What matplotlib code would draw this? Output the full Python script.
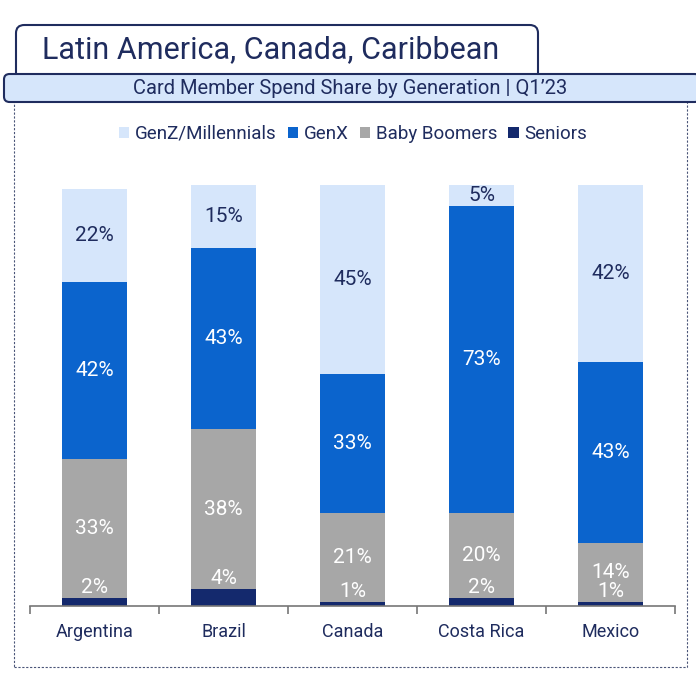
import matplotlib.pyplot as plt
from matplotlib.patches import FancyBboxPatch, Rectangle
import numpy as np

plt.rcParams['font.family'] = ['Roboto', 'DejaVu Sans']

# data
countries = ["Argentina", "Brazil", "Canada", "Costa Rica", "Mexico"]
series = ["GenZ/Millennials", "GenX", "Baby Boomers", "Seniors"]
seniors = [2, 4, 1, 2, 1]
boomers = [33, 38, 21, 20, 14]
genx = [42, 43, 33, 73, 43]
genz = [22, 15, 45, 5, 42]

colors = {"GenZ/Millennials": "#d6e6fb", "GenX": "#0b64cd",
          "Baby Boomers": "#a7a7a7", "Seniors": "#14296d"}
navy = "#1f2c5e"

W, H = 696, 676
fig = plt.figure(figsize=(W / 100, H / 100), dpi=100)

def fx(px):
    return px / W

def fy(py):
    return 1 - py / H

# dashed frame
fig.patches.append(Rectangle((fx(14), fy(667)), fx(687) - fx(14), fy(100) - fy(667),
                             transform=fig.transFigure, fill=False, ec="#4a5578",
                             lw=0.8, ls=(0, (2, 1.5))))
# title tab
fig.patches.append(FancyBboxPatch((fx(16), fy(95)), fx(538) - fx(16), fy(25) - fy(95),
                                  boxstyle="round,pad=0,rounding_size=0.012",
                                  transform=fig.transFigure, fc="white", ec=navy, lw=1.5))
fig.text(fx(271), fy(50), "Latin America, Canada, Caribbean", ha="center", va="center",
         fontsize=22, color=navy)
# subtitle band
fig.patches.append(FancyBboxPatch((fx(4), fy(102)), fx(700) - fx(4), fy(74) - fy(102),
                                  boxstyle="round,pad=0,rounding_size=0.008",
                                  transform=fig.transFigure, fc="#d6e6fb", ec=navy, lw=1.5))
fig.text(fx(350), fy(88), "Card Member Spend Share by Generation | Q1\u201923", ha="center",
         va="center", fontsize=14.5, color=navy)

ax = fig.add_axes([fx(30), fy(606), fx(675) - fx(30), fy(185) - fy(606)])
x = np.arange(len(countries))
w = 0.5

bottom = np.zeros(len(countries))
stack = [("Seniors", seniors), ("Baby Boomers", boomers), ("GenX", genx), ("GenZ/Millennials", genz)]
for name, vals in stack:
    vals = np.array(vals, dtype=float)
    ax.bar(x, vals, w, bottom=bottom, color=colors[name], label=name, zorder=2)
    for i, v in enumerate(vals):
        tc = navy if name == "GenZ/Millennials" else "white"
        if name == "Seniors":
            ax.text(x[i], bottom[i] + v + 0.2, f"{int(v)}%", ha="center", va="bottom",
                    fontsize=15, color="white", zorder=3)
        else:
            ax.text(x[i], bottom[i] + v / 2, f"{int(v)}%", ha="center", va="center",
                    fontsize=15, color=tc, zorder=3)
    bottom += vals

ax.set_xlim(-0.5, 4.5)
ax.set_ylim(0, 100)
ax.set_yticks([])
for s in ["top", "right", "left"]:
    ax.spines[s].set_visible(False)
ax.spines["bottom"].set_color("#777777")
ax.spines["bottom"].set_linewidth(1.2)
ax.set_xticks(x)
ax.set_xticklabels(countries, fontsize=13, color=navy)
ax.tick_params(axis="x", which="major", length=0, pad=12)
ax.set_xticks(np.arange(-0.5, 5, 1), minor=True)
ax.tick_params(axis="x", which="minor", length=6, color="#777777", width=1.2)

handles, labels = ax.get_legend_handles_labels()
order = [labels.index(s) for s in series]
fig.legend([handles[i] for i in order], [labels[i] for i in order], loc="center",
           bbox_to_anchor=(fx(353), fy(134)), ncol=4, frameon=False, fontsize=13.5,
           handlelength=0.55, handleheight=0.55, handletextpad=0.3, columnspacing=0.6,
           labelcolor=navy)

fig.savefig("out.png", dpi=100, facecolor="white")
